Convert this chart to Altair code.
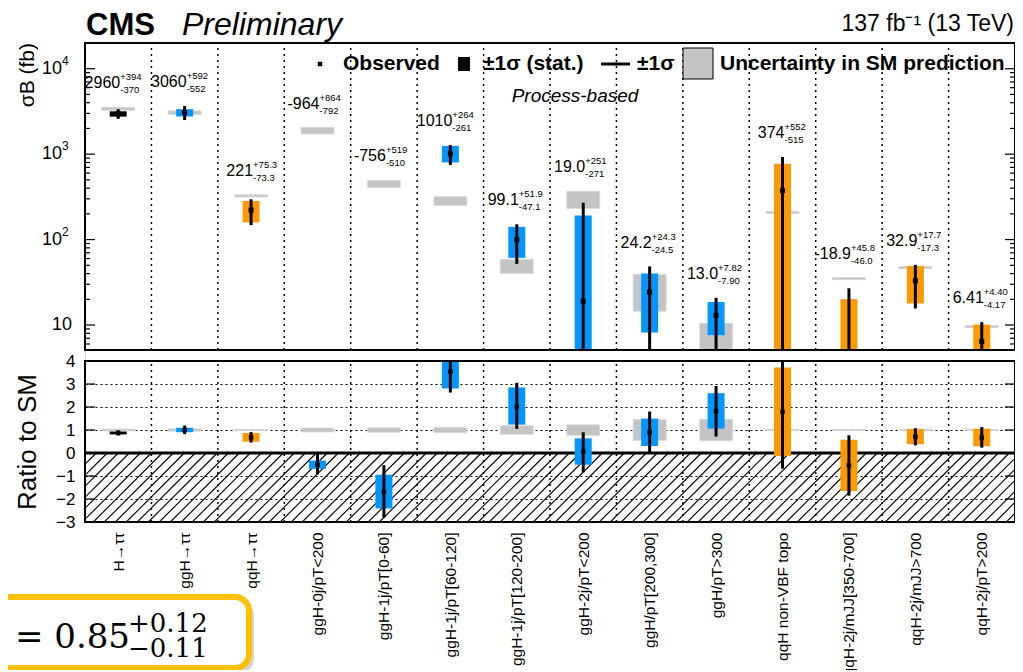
import json
import numpy as np
import pandas as pd
import altair as alt

# ---------------- data ----------------
categories = ["H\u2192\u03c4\u03c4", "ggH\u2192\u03c4\u03c4", "qqH\u2192\u03c4\u03c4",
              "ggH-0j/pT<200", "ggH-1j/pT[0-60]", "ggH-1j/pT[60-120]",
              "ggH-1j/pT[120-200]", "ggH-2j/pT<200", "ggH/pT[200,300]",
              "ggH/pT>300", "qqH non-VBF topo", "qqH-2j/mJJ[350-700]",
              "qqH-2j/mJJ>700", "qqH-2j/pT>200"]
process = ["incl", "ggH", "qqH", "ggH", "ggH", "ggH", "ggH", "ggH", "ggH",
           "ggH", "qqH", "qqH", "qqH", "qqH"]
observed = [2960, 3060, 221, -964, -756, 1010, 99.1, 19.0, 24.2, 13.0, 374, -18.9, 32.9, 6.41]
tot_up = [394, 592, 75.3, 864, 519, 264, 51.9, 251, 24.3, 7.82, 552, 45.8, 17.7, 4.40]
tot_dn = [370, 552, 73.3, 792, 510, 261, 47.1, 271, 24.5, 7.90, 515, 46.0, 17.3, 4.17]
stat_up = [210, 300, 62, 340, 330, 240, 42, 172, 16, 5.6, 400, 39, 16, 3.7]
stat_dn = [210, 300, 62, 340, 330, 210, 38, 172, 16, 5.4, 400, 39, 15, 3.6]
sm_pred = [3400, 3060, 325, 1890, 450, 285, 49.5, 300, 26.9, 7.15, 208, 35, 47, 9.6]
sm_unc_rel = [0.04, 0.05, 0.03, 0.09, 0.10, 0.12, 0.19, 0.23, 0.46, 0.47, 0.03, 0.03, 0.03, 0.03]

decades = [10, 100, 1000, 10000]
decade_exp = ["", "2", "3", "4"]
ratio_ticks = [-3, -2, -1, 0, 1, 2, 3, 4]
proc_domain = ["incl", "ggH", "qqH"]
proc_colors = ["#000000", "#0096FF", "#FF9900"]

# ---------------- layout constants ----------------
FONT = "Liberation Sans"
W, H = 930, 479
UP_H = 307
LO_TOP = 318
NCOL = len(categories)
YMIN, YMAX = 5.1, 2.0e4
RMIN, RMAX = -3.0, 4.0
COLPX = W / NCOL
SM_FILL = "#c4c4c4"
SM_EDGE = "#dadada"


def fmt(v):
    a = abs(v)
    s = f"{a:.0f}" if a >= 100 else (f"{a:.1f}" if a >= 10 else f"{a:.2f}")
    return ("-" if v < 0 else "") + s


obs = np.array(observed, float)
tu, td = np.array(tot_up, float), np.array(tot_dn, float)
su, sd = np.array(stat_up, float), np.array(stat_dn, float)
sm = np.array(sm_pred, float)
u = np.array(sm_unc_rel, float)

df = pd.DataFrame({"cat": categories, "proc": process, "obs": obs})
df["xc"] = np.arange(NCOL) + 0.5
df["xb0"] = df["xc"] - 8.5 / COLPX
df["xb1"] = df["xc"] + 8.5 / COLPX
df["xs0"] = df["xc"] - 16.5 / COLPX
df["xs1"] = df["xc"] + 16.5 / COLPX
df["st_hi"] = obs + su
df["st_lo"] = np.maximum(obs - sd, YMIN)
df["tt_hi"] = obs + tu
df["tt_lo"] = np.maximum(obs - td, YMIN)
df["sm_hi"] = sm * (1 + u)
df["sm_lo"] = np.maximum(sm * (1 - u), YMIN)
df["lab_y"] = np.maximum(df["tt_hi"], df["sm_hi"]) * 1.9
df["t_main"] = [fmt(v) for v in observed]
df["t_sup"] = ["+" + fmt(v) for v in tot_up]
df["t_sub"] = ["-" + fmt(v) for v in tot_dn]
# ratio panel
df["r"] = obs / sm
df["r_st_lo"] = np.clip((obs - sd) / sm, RMIN, RMAX)
df["r_st_hi"] = np.clip((obs + su) / sm, RMIN, RMAX)
df["r_tt_lo"] = np.clip((obs - td) / sm, RMIN, RMAX)
df["r_tt_hi"] = np.clip((obs + tu) / sm, RMIN, RMAX)
df["r_sm_lo"] = 1 - u
df["r_sm_hi"] = 1 + u

up_bars = df[df["st_hi"] > YMIN]
up_err = df[df["tt_hi"] > YMIN]
up_pts = df[df["obs"] > YMIN]

xs = alt.Scale(domain=[0, NCOL], nice=False, zero=False)
ups = alt.Scale(type="log", domain=[YMIN, YMAX], range=[UP_H, 0], nice=False, zero=False)
los = alt.Scale(domain=[RMIN, RMAX], range=[H, LO_TOP], nice=False, zero=False, clamp=True)
col = alt.Color("proc:N", scale=alt.Scale(domain=proc_domain, range=proc_colors), legend=None)

x_axis = alt.Axis(values=list(float(v) for v in df["xc"]),
                  labelExpr=json.dumps(categories, ensure_ascii=False) + "[floor(datum.value)]",
                  labelAngle=270, labelAlign="right", labelBaseline="middle", labelFont=FONT,
                  labelFontSize=15.5, labelColor="black", labelPadding=10, labelLimit=400,
                  labelOverlap=False, labelFlush=False, ticks=False, domain=False, grid=False,
                  title=None)
y_axis_lo = alt.Axis(orient="left", values=ratio_ticks, grid=True, gridDash=[2, 3],
                     gridColor="black", gridWidth=1.2, gridOpacity=1, ticks=False, domain=False,
                     labelFont=FONT, labelFontSize=17, labelColor="black", labelPadding=10,
                     title="Ratio to SM", titleFont=FONT, titleFontSize=26,
                     titleFontWeight="normal", titleColor="black", titleX=-58,
                     titleBaseline="middle")


def X(f):
    return alt.X(f"{f}:Q", scale=xs, axis=x_axis)


def YU(f):
    return alt.Y(f"{f}:Q", scale=ups, axis=None)


def YL(f):
    return alt.Y(f"{f}:Q", scale=los, axis=y_axis_lo)


# ---------------- upper panel ----------------
sep_up = pd.DataFrame({"x": np.arange(1, NCOL), "lo": YMIN, "hi": YMAX})
frame_up = pd.DataFrame({"x0": [0], "x1": [NCOL], "lo": [YMIN], "hi": [YMAX]})
major_up = pd.DataFrame({"v": decades, "e": decade_exp})
minor_vals = [m * 10 ** k for k in range(0, 5) for m in range(2, 10) if YMIN < m * 10 ** k < YMAX]
minor_up = pd.DataFrame({"v": minor_vals})

u_layers = [
    alt.Chart(sep_up).mark_rule(color="black", strokeWidth=1.5, strokeDash=[2, 4]).encode(
        x=X("x"), y=YU("lo"), y2="hi"),
    alt.Chart(df).mark_rect(fill=SM_FILL, stroke=SM_EDGE, strokeWidth=0.8).encode(
        x=X("xs0"), x2="xs1", y=YU("sm_lo"), y2="sm_hi"),
    alt.Chart(up_bars).mark_rect().encode(
        x=X("xb0"), x2="xb1", y=YU("st_lo"), y2="st_hi", color=col),
    alt.Chart(up_err).mark_rule(color="black", strokeWidth=3).encode(
        x=X("xc"), y=YU("tt_lo"), y2="tt_hi"),
    alt.Chart(up_pts).mark_square(size=25, color="black", opacity=1).encode(
        x=X("xc"), y=YU("obs")),
    alt.Chart(df).mark_text(align="right", baseline="middle", font=FONT, fontSize=16, dx=2,
                            color="black").encode(x=X("xc"), y=YU("lab_y"), text="t_main:N"),
    alt.Chart(df).mark_text(align="left", baseline="middle", font=FONT, fontSize=9.5, dx=2, dy=-6,
                            color="black").encode(x=X("xc"), y=YU("lab_y"), text="t_sup:N"),
    alt.Chart(df).mark_text(align="left", baseline="middle", font=FONT, fontSize=9.5, dx=2, dy=7,
                            color="black").encode(x=X("xc"), y=YU("lab_y"), text="t_sub:N"),
    alt.Chart(frame_up).mark_rect(fill="white", fillOpacity=0, stroke="black", strokeWidth=2).encode(
        x=X("x0"), x2="x1", y=YU("lo"), y2="hi"),
    # inward ticks
    alt.Chart(major_up).mark_rule(color="black", strokeWidth=1.2).encode(
        x=alt.value(0), x2=alt.value(10), y=YU("v")),
    alt.Chart(major_up).mark_rule(color="black", strokeWidth=1.2).encode(
        x=alt.value(W - 10), x2=alt.value(W), y=YU("v")),
    alt.Chart(minor_up).mark_rule(color="black", strokeWidth=1.2).encode(
        x=alt.value(0), x2=alt.value(5), y=YU("v")),
    alt.Chart(minor_up).mark_rule(color="black", strokeWidth=1.2).encode(
        x=alt.value(W - 5), x2=alt.value(W), y=YU("v")),
    # tick labels 10^n
    alt.Chart(major_up).transform_filter("datum.e != ''").mark_text(
        text="10", align="right", baseline="middle", font=FONT, fontSize=18, color="black").encode(
        x=alt.value(-23), y=YU("v")),
    alt.Chart(major_up).transform_filter("datum.e != ''").mark_text(
        align="left", baseline="middle", font=FONT, fontSize=12, dy=-8, color="black").encode(
        x=alt.value(-23), y=YU("v"), text="e:N"),
    alt.Chart(major_up).transform_filter("datum.e == ''").mark_text(
        text="10", align="right", baseline="middle", font=FONT, fontSize=18, color="black").encode(
        x=alt.value(-13), y=YU("v")),
]
upper = alt.layer(*u_layers)

# ---------------- lower (ratio) panel ----------------
sep_lo = pd.DataFrame({"x": np.arange(1, NCOL), "lo": RMIN, "hi": RMAX})
frame_lo = pd.DataFrame({"x0": [0], "x1": [NCOL], "lo": [RMIN], "hi": [RMAX]})
zero_lo = pd.DataFrame({"x0": [0], "x1": [NCOL], "y": [0.0]})
ticks_lo = pd.DataFrame({"v": ratio_ticks})
hatch_dx = (3 * (H - LO_TOP) / (RMAX - RMIN)) / COLPX
hatch_x0 = np.arange(-1.2, NCOL, 11 / COLPX)
hatch = pd.DataFrame({"x0": hatch_x0, "x1": hatch_x0 + hatch_dx, "y0": RMIN, "y1": 0.0})

l_layers = [
    alt.Chart(hatch).mark_rule(color="black", strokeWidth=1.1, clip=True).encode(
        x=X("x0"), x2="x1", y=YL("y0"), y2="y1"),
    alt.Chart(sep_lo).mark_rule(color="black", strokeWidth=1.5, strokeDash=[2, 4]).encode(
        x=X("x"), y=YL("lo"), y2="hi"),
    alt.Chart(zero_lo).mark_rule(color="black", strokeWidth=3).encode(
        x=X("x0"), x2="x1", y=YL("y")),
    alt.Chart(df).mark_rect(fill=SM_FILL, stroke=SM_EDGE, strokeWidth=0.8).encode(
        x=X("xs0"), x2="xs1", y=YL("r_sm_lo"), y2="r_sm_hi"),
    alt.Chart(df).mark_rect().encode(
        x=X("xb0"), x2="xb1", y=YL("r_st_lo"), y2="r_st_hi", color=col),
    alt.Chart(df).mark_rule(color="black", strokeWidth=3).encode(
        x=X("xc"), y=YL("r_tt_lo"), y2="r_tt_hi"),
    alt.Chart(df).mark_square(size=20, color="black", opacity=1).encode(
        x=X("xc"), y=YL("r")),
    alt.Chart(frame_lo).mark_rect(fill="white", fillOpacity=0, stroke="black", strokeWidth=2).encode(
        x=X("x0"), x2="x1", y=YL("lo"), y2="hi"),
    alt.Chart(ticks_lo).mark_rule(color="black", strokeWidth=1.2).encode(
        x=alt.value(0), x2=alt.value(10), y=YL("v")),
    alt.Chart(ticks_lo).mark_rule(color="black", strokeWidth=1.2).encode(
        x=alt.value(W - 10), x2=alt.value(W), y=YL("v")),
]
lower = alt.layer(*l_layers)

# ---------------- decorations (titles, legend, result box) ----------------
dummy = pd.DataFrame({"d": [0]})


def txt(text, x, y, size, align="left", weight="normal", style="normal", font=FONT,
        baseline="alphabetic", angle=0):
    kw = dict(text=text, align=align, baseline=baseline, font=font, fontSize=size,
              fontWeight=weight, fontStyle=style, color="black")
    if angle:
        kw["angle"] = angle
    return alt.Chart(dummy).mark_text(**kw).encode(x=alt.value(x), y=alt.value(y))


LEG_Y = 21
LEG_FS = 21
deco_layers = [
    txt("CMS", 1, -8, 31, weight="bold"),
    txt("Preliminary", 97, -8, 32, style="italic"),
    txt("137 fb\u207b\u00b9 (13 TeV)", 929, -12, 23, align="right"),
    txt("\u03c3B (fb)", -57, 0, 21, align="right", baseline="middle", angle=270),
    txt("Process-based", 490, 53, 19, align="center", style="italic", baseline="middle"),
    # legend
    alt.Chart(dummy).mark_square(size=20, color="black", opacity=1).encode(
        x=alt.value(235), y=alt.value(LEG_Y)),
    txt("Observed", 258, LEG_Y, LEG_FS, weight="bold", baseline="middle"),
    alt.Chart(dummy).mark_rect(color="black").encode(
        x=alt.value(373), x2=alt.value(385), y=alt.value(LEG_Y - 7), y2=alt.value(LEG_Y + 7)),
    txt("\u00b11\u03c3 (stat.)", 398, LEG_Y, LEG_FS, weight="bold", baseline="middle"),
    alt.Chart(dummy).mark_rule(color="black", strokeWidth=3).encode(
        x=alt.value(516), x2=alt.value(545), y=alt.value(LEG_Y)),
    txt("\u00b11\u03c3", 552, LEG_Y, LEG_FS, weight="bold", baseline="middle"),
    alt.Chart(dummy).mark_rect(fill=SM_FILL, stroke="black", strokeWidth=1).encode(
        x=alt.value(598), x2=alt.value(628), y=alt.value(5), y2=alt.value(36)),
    txt("Uncertainty in SM prediction", 635, LEG_Y, LEG_FS, weight="bold", baseline="middle"),
    # result box overlay
    alt.Chart(dummy).mark_rect(fill="#888888", opacity=0.35, cornerRadius=14).encode(
        x=alt.value(-93), x2=alt.value(169), y=alt.value(559), y2=alt.value(630)),
    alt.Chart(dummy).mark_rect(fill="white", stroke="#FFC000", strokeWidth=6, cornerRadius=14).encode(
        x=alt.value(-97), x2=alt.value(164), y=alt.value(554), y2=alt.value(625)),
    txt("= 0.85", -70, 605, 34, font="DejaVu Serif"),
    txt("+0.12", 43, 589, 26, font="DejaVu Serif"),
    txt("\u22120.11", 43, 614, 26, font="DejaVu Serif"),
]
deco = alt.layer(*deco_layers)

chart = alt.layer(upper, lower, deco).resolve_scale(y="independent").properties(
    width=W, height=H,
    autosize=alt.AutoSizeParams(type="none"),
    padding={"left": 77, "top": 35, "right": 0, "bottom": 148},
).configure_view(stroke=None).configure(background="white")

chart.save("out.html", embed_options={"renderer": "svg", "actions": False})
